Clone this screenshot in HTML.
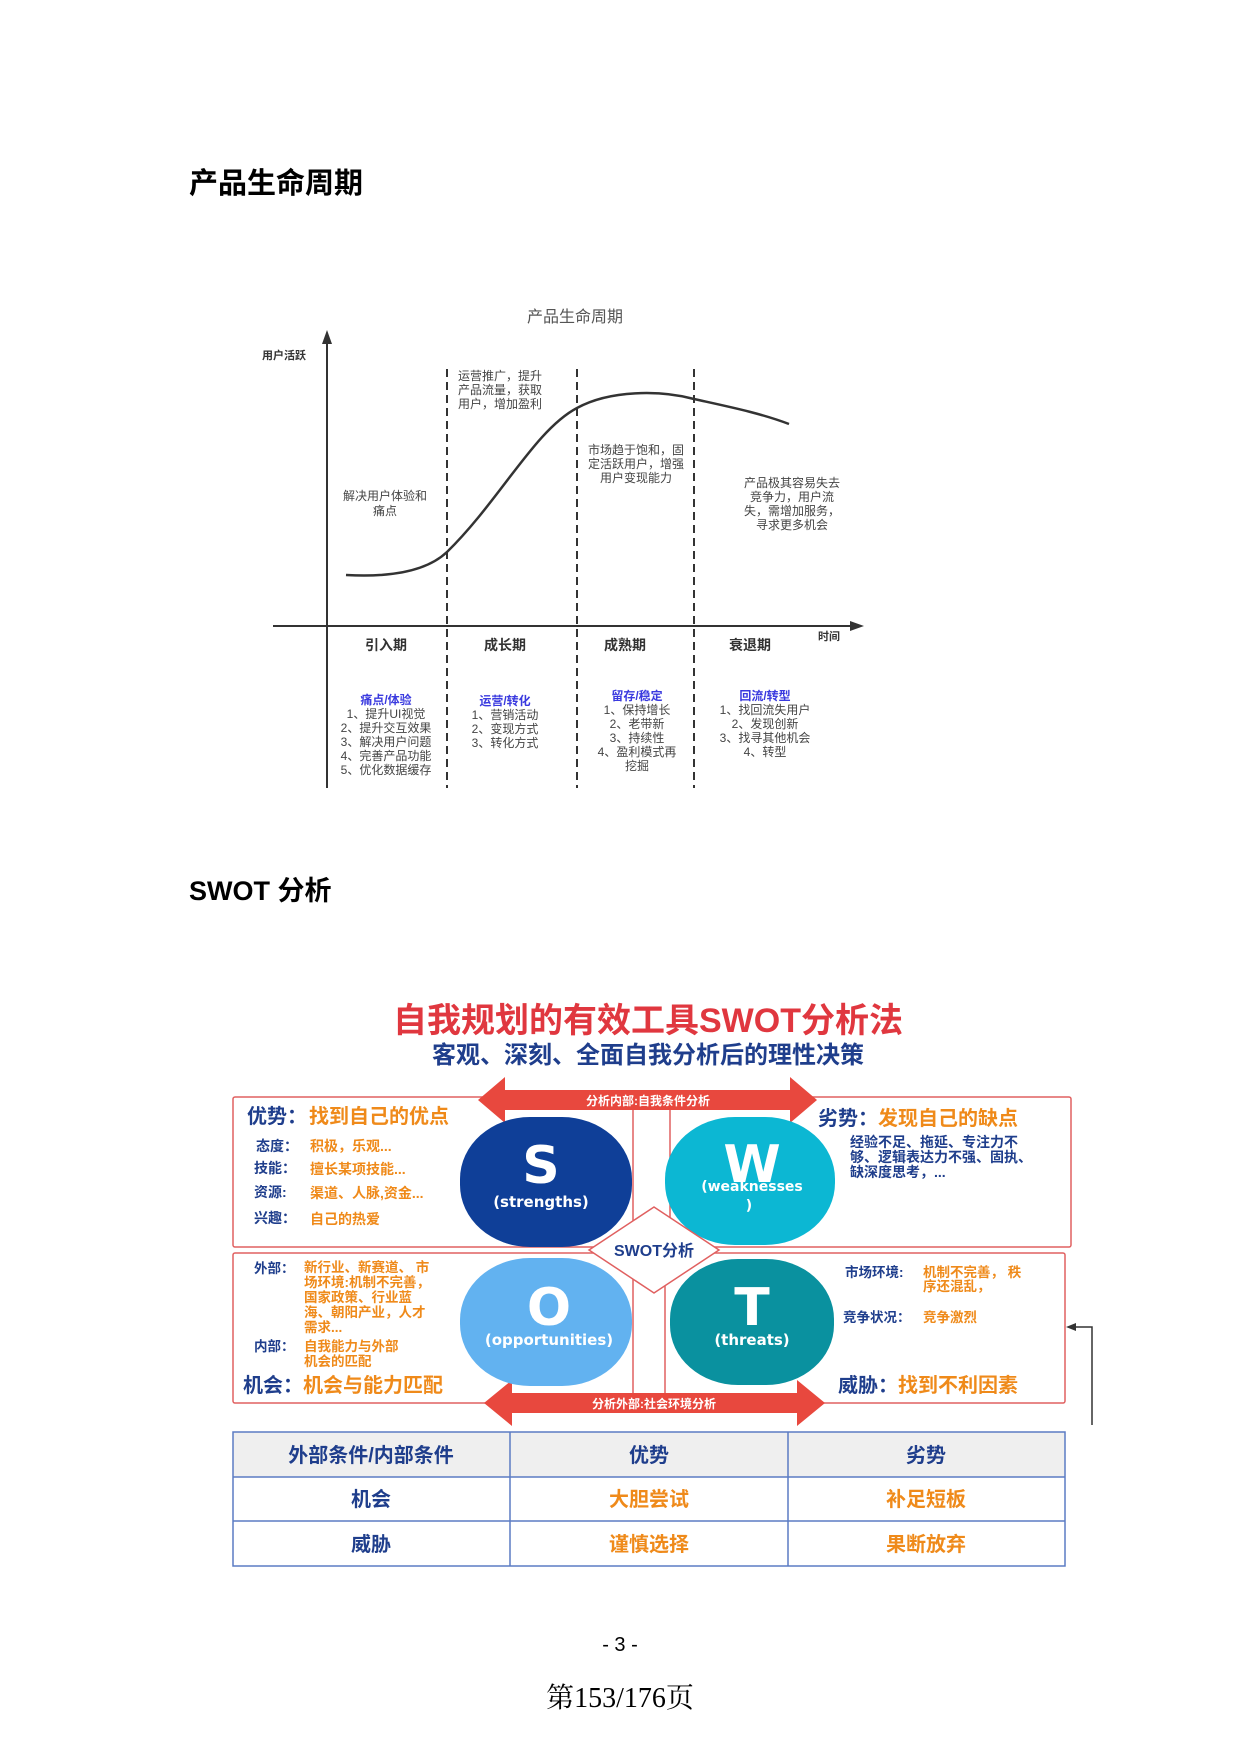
<!DOCTYPE html>
<html><head><meta charset="utf-8"><style>
html,body{margin:0;padding:0;background:#fff}
svg{display:block}
text{font-family:"Liberation Sans","Noto Sans CJK SC",sans-serif}
</style></head><body>
<svg width="1240" height="1753" viewBox="0 0 1240 1753" xmlns="http://www.w3.org/2000/svg">
<text x="189" y="193" font-size="29" font-weight="bold" fill="#000">产品生命周期</text>

<text x="575" y="322" font-size="16" fill="#555" text-anchor="middle">产品生命周期</text>
<text x="262" y="359" font-size="11" font-weight="bold" fill="#333">用户活跃</text>
<line x1="327" y1="340" x2="327" y2="788" stroke="#333" stroke-width="2"/>
<polygon points="327,330 322,344 332,344" fill="#333"/>
<line x1="273" y1="626" x2="852" y2="626" stroke="#333" stroke-width="2"/>
<polygon points="864,626 850,621 850,631" fill="#333"/>
<text x="818" y="640" font-size="11" font-weight="bold" fill="#333">时间</text>
<g stroke="#333" stroke-width="2" stroke-dasharray="8,5">
<line x1="447" y1="369" x2="447" y2="788"/>
<line x1="577" y1="369" x2="577" y2="788"/>
<line x1="694" y1="369" x2="694" y2="788"/>
</g>
<path d="M346,575 C400,578 430,568 447,552 C500,500 535,430 577,408 C610,390 660,390 694,399 C730,407 760,413 789,424" fill="none" stroke="#333" stroke-width="2.5"/>
<g font-size="12" fill="#444" text-anchor="middle">
<text x="385" y="500">解决用户体验和</text><text x="385" y="515">痛点</text>
<text x="458" y="380" text-anchor="start">运营推广，提升</text>
<text x="458" y="394" text-anchor="start">产品流量，获取</text>
<text x="458" y="408" text-anchor="start">用户，增加盈利</text>
<text x="636" y="454">市场趋于饱和，固</text><text x="636" y="468">定活跃用户，增强</text><text x="636" y="482">用户变现能力</text>
<text x="792" y="487">产品极其容易失去</text><text x="792" y="501">竞争力，用户流</text><text x="792" y="515">失，需增加服务，</text><text x="792" y="529">寻求更多机会</text>
</g>
<g font-size="14" font-weight="bold" fill="#333" text-anchor="middle">
<text x="386" y="650">引入期</text><text x="505" y="650">成长期</text><text x="625" y="650">成熟期</text><text x="750" y="650">衰退期</text>
</g>
<g font-size="12" fill="#444" text-anchor="middle">
<text x="386" y="704" fill="#3a3adf" font-weight="bold">痛点/体验</text>
<text x="386" y="718">1、提升UI视觉</text><text x="386" y="732">2、提升交互效果</text><text x="386" y="746">3、解决用户问题</text><text x="386" y="760">4、完善产品功能</text><text x="386" y="774">5、优化数据缓存</text>
<text x="505" y="705" fill="#3a3adf" font-weight="bold">运营/转化</text>
<text x="505" y="719">1、营销活动</text><text x="505" y="733">2、变现方式</text><text x="505" y="747">3、转化方式</text>
<text x="637" y="700" fill="#3a3adf" font-weight="bold">留存/稳定</text>
<text x="637" y="714">1、保持增长</text><text x="637" y="728">2、老带新</text><text x="637" y="742">3、持续性</text><text x="637" y="756">4、盈利模式再</text><text x="637" y="770">挖掘</text>
<text x="765" y="700" fill="#3a3adf" font-weight="bold">回流/转型</text>
<text x="765" y="714">1、找回流失用户</text><text x="765" y="728">2、发现创新</text><text x="765" y="742">3、找寻其他机会</text><text x="765" y="756">4、转型</text>
</g>

<text x="189" y="900" font-size="27" font-weight="bold" fill="#000">SWOT 分析</text>

<text x="648" y="1032" font-size="34" font-weight="bold" fill="#e0373f" text-anchor="middle">自我规划的有效工具SWOT分析法</text>
<text x="648" y="1063" font-size="24" font-weight="bold" fill="#1f3e8c" text-anchor="middle">客观、深刻、全面自我分析后的理性决策</text>

<rect x="233" y="1097" width="838" height="150" fill="none" stroke="#e06060" stroke-width="1.5" rx="2"/>
<rect x="233" y="1253" width="832" height="150" fill="none" stroke="#e06060" stroke-width="1.5" rx="2"/>
<g stroke="#e06060" stroke-width="1.5">
<line x1="633" y1="1110" x2="633" y2="1395"/>
<line x1="670" y1="1110" x2="670" y2="1250"/>
<line x1="665" y1="1250" x2="665" y2="1395"/>
</g>
<polygon points="478,1100 505,1077 505,1090 790,1090 790,1077 817,1100 790,1123 790,1110 505,1110 505,1123" fill="#e8483e"/>
<text x="648" y="1105" font-size="12" font-weight="bold" fill="#fff" text-anchor="middle">分析内部:自我条件分析</text>
<polygon points="484,1403 512,1380 512,1393 797,1393 797,1380 825,1403 797,1426 797,1413 512,1413 512,1426" fill="#e8483e"/>
<text x="654" y="1408" font-size="12" font-weight="bold" fill="#fff" text-anchor="middle">分析外部:社会环境分析</text>

<rect x="460" y="1117" width="172" height="130" rx="70" ry="62" fill="#0f3f98"/>
<rect x="665" y="1117" width="170" height="128" rx="70" ry="62" fill="#0cb7d3"/>
<rect x="460" y="1258" width="172" height="128" rx="70" ry="62" fill="#62b2f0"/>
<rect x="670" y="1259" width="164" height="126" rx="68" ry="60" fill="#0a919f"/>
<g fill="#fff" font-weight="bold" text-anchor="middle">
<text x="541" y="1183" font-size="52" style="font-family:'DejaVu Sans',sans-serif">S</text>
<text x="541" y="1207" font-size="15" style="font-family:'DejaVu Sans',sans-serif">(strengths)</text>
<text x="752" y="1182" font-size="52" style="font-family:'DejaVu Sans',sans-serif">W</text>
<text x="752" y="1191" font-size="14" style="font-family:'DejaVu Sans',sans-serif">(weaknesses</text>
<text x="749" y="1210" font-size="14" style="font-family:'DejaVu Sans',sans-serif">)</text>
<text x="549" y="1325" font-size="52" style="font-family:'DejaVu Sans',sans-serif">O</text>
<text x="549" y="1345" font-size="15" style="font-family:'DejaVu Sans',sans-serif">(opportunities)</text>
<text x="752" y="1325" font-size="52" style="font-family:'DejaVu Sans',sans-serif">T</text>
<text x="752" y="1345" font-size="15" style="font-family:'DejaVu Sans',sans-serif">(threats)</text>
</g>
<polygon points="589,1250 654,1207 719,1250 654,1293" fill="#fff" stroke="#e06060" stroke-width="1.5"/>
<text x="654" y="1256" font-size="16" font-weight="bold" fill="#1f3e8c" text-anchor="middle">SWOT分析</text>

<g font-weight="bold">
<text x="247" y="1123" font-size="20" fill="#1f3e8c">优势：<tspan fill="#ef8a1a" dx="2">找到自己的优点</tspan></text>
<g font-size="14">
<text x="256" y="1151" fill="#1f3e8c">态度：</text><text x="310" y="1151" fill="#ef8a1a">积极，乐观...</text>
<text x="254" y="1173" fill="#1f3e8c">技能：</text><text x="310" y="1174" fill="#ef8a1a">擅长某项技能...</text>
<text x="254" y="1197" fill="#1f3e8c">资源:</text><text x="310" y="1198" fill="#ef8a1a">渠道、人脉,资金...</text>
<text x="254" y="1223" fill="#1f3e8c">兴趣：</text><text x="310" y="1224" fill="#ef8a1a">自己的热爱</text>
</g>
<text x="818" y="1125" font-size="20" fill="#1f3e8c">劣势：<tspan fill="#ef8a1a">发现自己的缺点</tspan></text>
<g font-size="14" fill="#1f3e8c">
<text x="850" y="1147">经验不足、拖延、专注力不</text>
<text x="850" y="1162">够、逻辑表达力不强、固执、</text>
<text x="850" y="1177">缺深度思考，...</text>
</g>
<g font-size="13.5">
<text x="254" y="1273" fill="#1f3e8c">外部：</text>
<text x="304" y="1272" fill="#ef8a1a">新行业、新赛道、 市</text>
<text x="304" y="1287" fill="#ef8a1a">场环境:机制不完善，</text>
<text x="304" y="1302" fill="#ef8a1a">国家政策、行业蓝</text>
<text x="304" y="1317" fill="#ef8a1a">海、朝阳产业，人才</text>
<text x="304" y="1332" fill="#ef8a1a">需求...</text>
<text x="254" y="1351" fill="#1f3e8c">内部：</text>
<text x="304" y="1351" fill="#ef8a1a">自我能力与外部</text>
<text x="304" y="1366" fill="#ef8a1a">机会的匹配</text>
</g>
<text x="243" y="1392" font-size="20" fill="#1f3e8c">机会：<tspan fill="#ef8a1a">机会与能力匹配</tspan></text>
<g font-size="13.5">
<text x="845" y="1277" fill="#1f3e8c">市场环境:</text>
<text x="923" y="1277" fill="#ef8a1a">机制不完善， 秩</text>
<text x="923" y="1291" fill="#ef8a1a">序还混乱，</text>
<text x="843" y="1322" fill="#1f3e8c">竞争状况：</text>
<text x="923" y="1322" fill="#ef8a1a">竞争激烈</text>
</g>
<text x="838" y="1392" font-size="20" fill="#1f3e8c">威胁：<tspan fill="#ef8a1a">找到不利因素</tspan></text>
</g>

<path d="M1092,1425 L1092,1327 L1072,1327" fill="none" stroke="#333" stroke-width="1.5"/>
<polygon points="1066,1327 1076,1323 1076,1331" fill="#333"/>

<rect x="233" y="1432" width="832" height="45" fill="#efefef"/>
<g stroke="#5b7cc4" stroke-width="1.5" fill="none">
<rect x="233" y="1432" width="832" height="134"/>
<line x1="233" y1="1477" x2="1065" y2="1477"/><line x1="233" y1="1521" x2="1065" y2="1521"/>
<line x1="510" y1="1432" x2="510" y2="1566"/><line x1="788" y1="1432" x2="788" y2="1566"/>
</g>
<g font-size="20" font-weight="bold" text-anchor="middle">
<text x="371" y="1462" fill="#1f3e8c">外部条件/内部条件</text><text x="649" y="1462" fill="#1f3e8c">优势</text><text x="926" y="1462" fill="#1f3e8c">劣势</text>
<text x="371" y="1506" fill="#1f3e8c">机会</text><text x="649" y="1506" fill="#ef8a1a">大胆尝试</text><text x="926" y="1506" fill="#ef8a1a">补足短板</text>
<text x="371" y="1551" fill="#1f3e8c">威胁</text><text x="649" y="1551" fill="#ef8a1a">谨慎选择</text><text x="926" y="1551" fill="#ef8a1a">果断放弃</text>
</g>

<text x="620" y="1651" font-size="20" fill="#000" text-anchor="middle">- 3 -</text>
<text x="620" y="1707" font-size="28" fill="#000" text-anchor="middle" style="font-family:'Liberation Serif','Noto Serif CJK SC',serif">第153/176页</text>
</svg>
</body></html>
